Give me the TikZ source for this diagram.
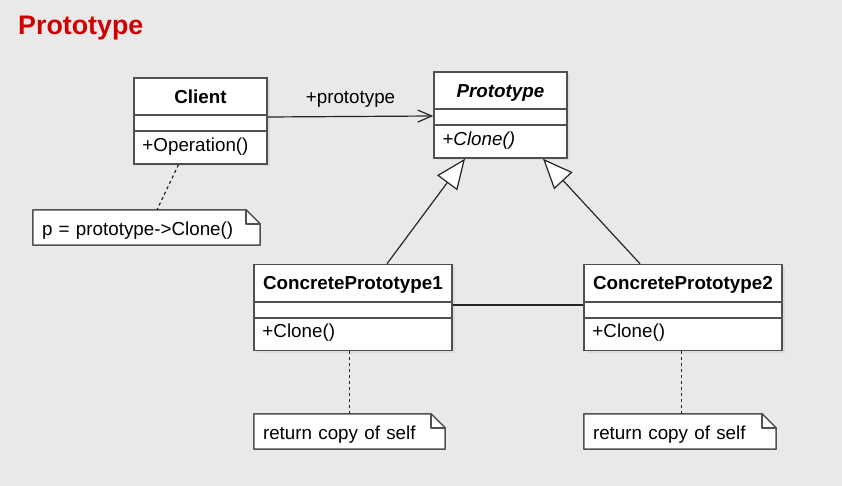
\documentclass[tikz,border=0pt]{standalone}
\usepackage{fontspec}
\setmainfont{Liberation Sans}
\usetikzlibrary{arrows.meta, shadows}
\definecolor{bgcol}{HTML}{E9E9E9}
\definecolor{edgecol}{HTML}{505050}
\definecolor{titlered}{HTML}{D00000}

\begin{document}
\begin{tikzpicture}[x=1pt, y=-1pt, font=\fontsize{18.8}{22}\selectfont,
  classbox/.style={rectangle, draw=edgecol, line width=1.5pt, fill=white, minimum height=86pt, inner sep=0pt,
    drop shadow={shadow xshift=2.5pt, shadow yshift=-2.5pt, opacity=.12}},
  classtext/.style={inner sep=0pt},
  sepline/.style={draw=edgecol, line width=1.5pt},
  notebox/.style={rectangle, fill=white, inner xsep=9pt, inner ysep=6.5pt, text height=19pt, text depth=3pt, align=left},
  noteedge/.style={draw=edgecol, line width=1.5pt, line join=round},
  assoc/.style={draw=black!85, line width=1.2pt, -{Straight Barb[length=14pt, width=12pt]}},
  generalize/.style={draw=black!85, line width=1.2pt, -{Triangle[fill=white, length=30pt, width=25pt]}},
  link/.style={draw=black!85, line width=1.2pt},
  attach/.style={draw=black!85, line width=1.2pt, dash pattern=on 3pt off 3pt}]

\fill[bgcol] (0,0) rectangle (842,486);
\useasboundingbox (0,0) rectangle (842,486);

% Title
\node[anchor=base west, inner sep=0pt, text=titlered, font=\fontsize{26.8}{30}\selectfont\bfseries] (title) at (18,35) {Prototype};

% Classes
\foreach \id/\cx/\cy/\w/\title/\op in {
  client/200.5/121/133/{\bfseries Client}/{+Operation()},
  proto/500.5/115/133/{\bfseries\itshape Prototype}/{\itshape +Clone()},
  cp1/353/307.5/198/{\bfseries ConcretePrototype1}/{+Clone()},
  cp2/683/307.5/198/{\bfseries ConcretePrototype2}/{+Clone()}} {
  \node[classbox, minimum width=\w pt] (\id) at (\cx,\cy) {};
  \draw[sepline] ([yshift=-38pt]\id.north west) -- ([yshift=-38pt]\id.north east);
  \draw[sepline] ([yshift=-54pt]\id.north west) -- ([yshift=-54pt]\id.north east);
  \node[classtext, anchor=base] (\id-name) at ([yshift=-26pt]\id.north) {\title};
  \node[classtext, anchor=base west] (\id-op) at ([xshift=9pt, yshift=-74pt]\id.north west) {\op};
}

% Notes
\node[notebox, text width=209pt] (note1) at (146.5,227.5) {p = prototype->Clone()};
\node[notebox, text width=173pt] (note2) at (349.5,431.5) {return copy of self};
\node[notebox, text width=174pt] (note3) at (680,431.5) {return copy of self};

\foreach \n in {note1,note2,note3} {
  \fill[bgcol] ([xshift=-14pt]\n.north east) -- (\n.north east) -- ([yshift=-14pt]\n.north east) -- cycle;
  \draw[noteedge] (\n.south west) -- (\n.north west) -- ([xshift=-14pt]\n.north east)
    -- ([yshift=-14pt]\n.north east) -- (\n.south east) -- cycle;
  \draw[noteedge] ([xshift=-14pt]\n.north east) |- ([yshift=-14pt]\n.north east);
}

% Relations
\draw[assoc] ([yshift=4pt]client.east) -- node[above=8.5pt, inner sep=0pt] (role) {+prototype} ([yshift=-1pt]proto.west);
\draw[generalize] ([xshift=34pt]cp1.north) -- ([xshift=-35.5pt]proto.south);
\draw[generalize] ([xshift=-43pt]cp2.north) -- ([xshift=42.5pt]proto.south);
\draw[link] ([yshift=2.5pt]cp1.east) -- ([yshift=2.5pt]cp2.west);

\draw[attach] ([xshift=-22pt]client.south) -- ([xshift=10.5pt]note1.north);
\draw[attach] (note2.north |- cp1.south) -- (note2.north);
\draw[attach] ([xshift=1.5pt]note3.north |- cp2.south) -- ([xshift=1.5pt]note3.north);

\end{tikzpicture}
\end{document}
